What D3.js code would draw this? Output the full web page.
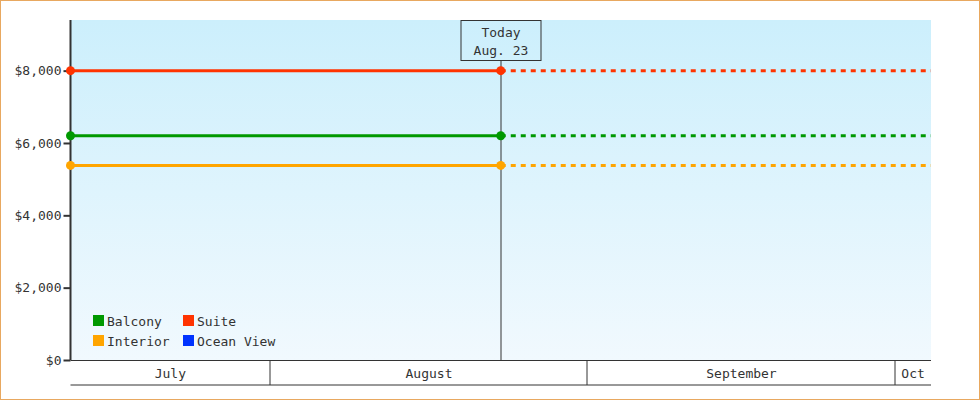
<!DOCTYPE html>
<html>
<head>
<meta charset="utf-8">
<script src="https://cdn.jsdelivr.net/npm/d3@7"></script>
<style>
  html, body { margin: 0; padding: 0; background: #fff; }
  #chart { width: 980px; height: 400px; }
  text { font-family: "DejaVu Sans Mono", monospace; font-size: 13px; fill: #333; }
</style>
</head>
<body>
<div id="chart"></div>
<script>
// data
const seriesNames = ["Balcony", "Interior", "Suite", "Ocean View"];
const pointDates = ["2019-07-12T12:00", "2019-08-23T12:00"];
const balconyPrices = [6200, 6200];
const interiorPrices = [5380, 5380];
const suitePrices = [8000, 8000];
const oceanViewPrices = [];
const todayDate = "2019-08-23T12:00";
const todayLabel = ["Today", "Aug. 23"];
const rangeStart = "2019-07-12T12:00";
const rangeEnd = "2019-10-04T12:00";
const monthLabels = ["July", "August", "September", "Oct"];
const yTicks = [0, 2000, 4000, 6000, 8000];
const yMax = 9400;

const colors = { "Balcony": "#009900", "Interior": "#ffa500", "Suite": "#ff3300", "Ocean View": "#0033ff" };
const priceSets = [balconyPrices, interiorPrices, suitePrices, oceanViewPrices];

const width = 980, height = 400;
const margin = { top: 20, right: 49, bottom: 40, left: 70.5 };
const innerW = width - margin.left - margin.right;
const innerH = height - margin.top - margin.bottom;

const parse = d3.isoParse;
const x = d3.scaleTime().domain([parse(rangeStart), parse(rangeEnd)]).range([0, innerW]);
const y = d3.scaleLinear().domain([0, yMax]).range([innerH, 0]);

const svg = d3.select("#chart").append("svg")
  .attr("width", width).attr("height", height);

// page border
svg.append("rect")
  .attr("x", 0.5).attr("y", 0.5).attr("width", width - 1).attr("height", height - 1)
  .attr("fill", "none").attr("stroke", "#e8a860");

const grad = svg.append("defs").append("linearGradient")
  .attr("id", "bg").attr("x1", 0).attr("y1", 0).attr("x2", 0).attr("y2", 1);
grad.append("stop").attr("offset", "0%").attr("stop-color", "#ccefFC");
grad.append("stop").attr("offset", "100%").attr("stop-color", "#f1f9fe");

const g = svg.append("g").attr("transform", `translate(${margin.left},${margin.top})`);

g.append("rect").attr("width", innerW).attr("height", innerH).attr("fill", "url(#bg)");

// month band under the plot
const band = g.append("g").attr("transform", `translate(0,${innerH})`);
const bandH = 25;
const months = d3.timeMonth.range(d3.timeMonth.floor(x.domain()[0]), x.domain()[1]);
band.append("line").attr("x1", 0).attr("x2", innerW).attr("y1", 0.5).attr("y2", 0.5)
  .attr("stroke", "#333");
band.append("line").attr("x1", 0).attr("x2", innerW).attr("y1", bandH).attr("y2", bandH)
  .attr("stroke", "#333");
months.forEach((m, i) => {
  const x0 = Math.max(0, x(m));
  const x1 = Math.min(innerW, x(d3.timeMonth.offset(m, 1)));
  if (i > 0) {
    band.append("line").attr("x1", Math.round(x0) - 0.5).attr("x2", Math.round(x0) - 0.5)
      .attr("y1", 0).attr("y2", bandH).attr("stroke", "#333");
  }
  band.append("text")
    .attr("x", (x0 + x1) / 2).attr("y", 13)
    .attr("dy", "0.35em")
    .attr("text-anchor", "middle")
    .text(monthLabels[i]);
});

// y axis
const yAxis = g.append("g")
  .call(d3.axisLeft(y).tickValues(yTicks).tickSize(7).tickPadding(2)
    .tickFormat(d => "$" + d3.format(",")(d)));
yAxis.select(".domain").attr("stroke", "#333").attr("stroke-width", 2)
  .attr("d", `M0,0V${innerH}`);
yAxis.selectAll(".tick line").attr("stroke", "#333").attr("stroke-width", 2);
yAxis.selectAll(".tick text").style("font-family", "DejaVu Sans Mono, monospace")
  .style("font-size", "13px").attr("fill", "#333");

// today marker
const tx = Math.round(x(parse(todayDate))) + 0.5;
g.append("line").attr("x1", tx).attr("x2", tx).attr("y1", 40).attr("y2", innerH)
  .attr("stroke", "#333");
g.append("rect").attr("x", tx - 40).attr("y", 0.5).attr("width", 80).attr("height", 40)
  .attr("fill", "none").attr("stroke", "#333");
todayLabel.forEach((t, i) => {
  g.append("text").attr("x", tx).attr("y", 12 + i * 18).attr("dy", "0.35em")
    .attr("text-anchor", "middle").text(t);
});

// series lines
const line = d3.line().x(d => x(d.date)).y(d => y(d.value));
seriesNames.forEach((name, i) => {
  const vals = priceSets[i];
  if (!vals.length) return;
  const pts = vals.map((v, j) => ({ date: parse(pointDates[j]), value: v }));
  const last = pts[pts.length - 1];
  g.append("path").datum([last, { date: parse(rangeEnd), value: last.value }])
    .attr("d", line).attr("fill", "none").attr("stroke", colors[name])
    .attr("stroke-width", 3).attr("stroke-dasharray", "5,5");
  g.append("path").datum(pts)
    .attr("d", line).attr("fill", "none").attr("stroke", colors[name])
    .attr("stroke-width", 3);
  g.selectAll(null).data(pts).join("circle")
    .attr("cx", d => x(d.date)).attr("cy", d => y(d.value))
    .attr("r", 4.5)
    .attr("fill", colors[name]);
});

// legend
const legend = g.append("g").attr("transform", "translate(22.5,295)");
seriesNames.forEach((name, i) => {
  const col = Math.floor(i / 2), row = i % 2;
  const item = legend.append("g").attr("transform", `translate(${col * 90},${row * 20})`);
  item.append("rect").attr("width", 11).attr("height", 11).attr("fill", colors[name]);
  item.append("text").attr("x", 14).attr("y", 6).attr("dy", "0.35em").text(name);
});
</script>
</body>
</html>
